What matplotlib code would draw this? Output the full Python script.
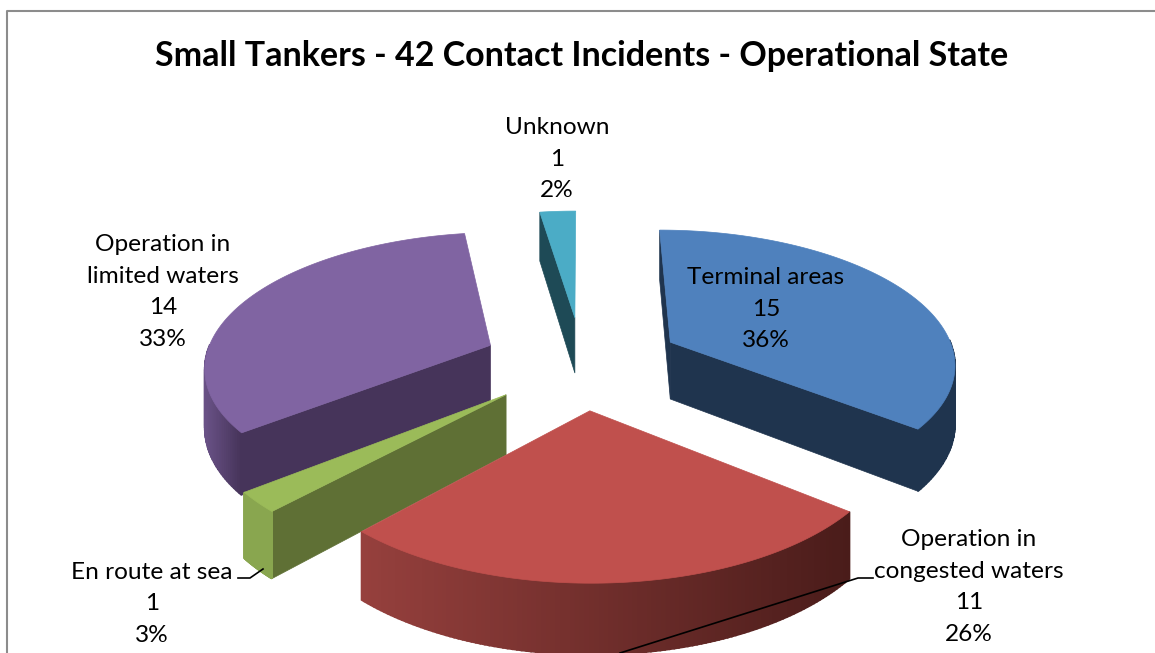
import numpy as np
import matplotlib
matplotlib.use('Agg')
import matplotlib.pyplot as plt
from matplotlib.colors import to_rgb

plt.rcParams['font.family'] = ['Lato', 'DejaVu Sans']

states = ['Terminal areas', 'Operation in congested waters', 'En route at sea',
          'Operation in limited waters', 'Unknown']
counts = [15, 11, 1, 14, 1]
percents = ['36%', '26%', '3%', '33%', '2%']

top_colors = ['#4F81BD', '#C0504D', '#9BBB59', '#8064A2', '#4BACC6']
wall_colors = ['#1F344E', '#4A1C1A', '#5F7035', '#46345A', '#1E4A56']
rim_colors = ['#1F344E', '#96403D', '#89A64F', '#6A5287', '#1E4A56']
rim_end_colors = ['#1F344E', '#4A1C1A', '#89A64F', '#46345A', '#1E4A56']

# projection of the pie, everything in pixels
start_angle = 0.0
explode = 0.35
cx, cy = 582, 362
radius_x, radius_y = 286, 133
persp = 0.14
thick = 58


def project(X, V, z=0.0):
    s = 1.0 / (1.0 - persp * V)
    return cx + radius_x * X * s, cy + radius_y * V * s + z * s


def slice_point(t, mid, r=1.0, z=0.0):
    # t and mid in degrees, clockwise from the back of the pie
    t, mid = np.radians(t), np.radians(mid)
    X = r * np.sin(t) + explode * np.sin(mid)
    V = -r * np.cos(t) - explode * np.cos(mid)
    return project(X, V, z)


fig = plt.figure(figsize=(11.55, 6.53), dpi=100)
ax = fig.add_axes([0, 0, 1, 1])
ax.set_xlim(0, 1155)
ax.set_ylim(653, 0)
ax.axis('off')

# outer chart frame
ax.plot([6.5, 6.5, 1155], [653, 10.5, 10.5], color='#8C8C8C', lw=1.5, zorder=1)

# slice angles from the counts
sweeps = 360 * np.array(counts) / sum(counts)
starts = start_angle + np.concatenate(([0], np.cumsum(sweeps)[:-1]))
ends = starts + sweeps


def draw_slice(i, zorder):
    t0, t1 = starts[i], ends[i]
    mid = (t0 + t1) / 2
    ts = np.linspace(t0, t1, 121)
    top = [slice_point(t, mid) for t in ts]
    apex = slice_point(0, mid, r=0)
    apex_low = slice_point(0, mid, r=0, z=thick)

    # flat cut faces, only those turned towards the viewer
    if -np.cos(np.radians(t0 - 90)) >= -1e-6:
        a, b = slice_point(t0, mid), slice_point(t0, mid, z=thick)
        ax.fill(*zip(apex, a, b, apex_low), color=wall_colors[i], lw=0.5, zorder=zorder)
    if -np.cos(np.radians(t1 + 90)) > 0:
        a, b = slice_point(t1, mid), slice_point(t1, mid, z=thick)
        ax.fill(*zip(apex, a, b, apex_low), color=wall_colors[i], lw=0.5, zorder=zorder)

    # outer rim in short strips so it can shade from one end to the other
    front = ts[-np.cos(np.radians(ts)) > -0.02]
    c0, c1 = np.array(to_rgb(rim_colors[i])), np.array(to_rgb(rim_end_colors[i]))
    if len(front) > 1:
        xa = slice_point(front, mid)[0]
        span = max(xa.max() - xa.min(), 1)
        for t_a, t_b in zip(front[:-1], front[1:]):
            p1, p2 = slice_point(t_a, mid), slice_point(t_b, mid)
            p3, p4 = slice_point(t_b, mid, z=thick), slice_point(t_a, mid, z=thick)
            f = (p1[0] - xa.min()) / span
            col = c0 + (c1 - c0) * f
            ax.fill(*zip(p1, p2, p3, p4), color=col, lw=1.2, zorder=zorder)

    ax.fill(*zip(apex, *top), color=top_colors[i], lw=0.5, zorder=zorder)


# back to front
for z, i in enumerate([4, 3, 0, 2, 1]):
    draw_slice(i, 2 + z)

# leader lines
ax.plot([238, 250, 263], [578, 578, 569], color='black', lw=1.2, zorder=9)
ax.plot([873, 858, 620], [578, 578, 653], color='black', lw=1.2, zorder=9)

ax.text(582, 56, 'Small Tankers - 42 Contact Incidents - Operational State',
        ha='center', va='center', fontsize=24.5, fontweight='bold', color='black', zorder=10)

label_pos = [(766, 309), None, (152, 604), (163, 292), (557, 159)]
wrapped = ['Terminal areas', None, 'En route at sea', 'Operation in\nlimited waters', 'Unknown']
for i, pos in enumerate(label_pos):
    if pos is None:
        continue
    ax.text(pos[0], pos[1], f'{wrapped[i]}\n{counts[i]}\n{percents[i]}', ha='center', va='center',
            fontsize=17.6, linespacing=1.62, color='black', zorder=10)
ax.text(969, 587, f'Operation in\ncongested waters\n{counts[1]}\n{percents[1]}', ha='center', va='center',
        fontsize=17.6, linespacing=1.62, color='black', zorder=10)

fig.savefig('out.png', dpi=100)
